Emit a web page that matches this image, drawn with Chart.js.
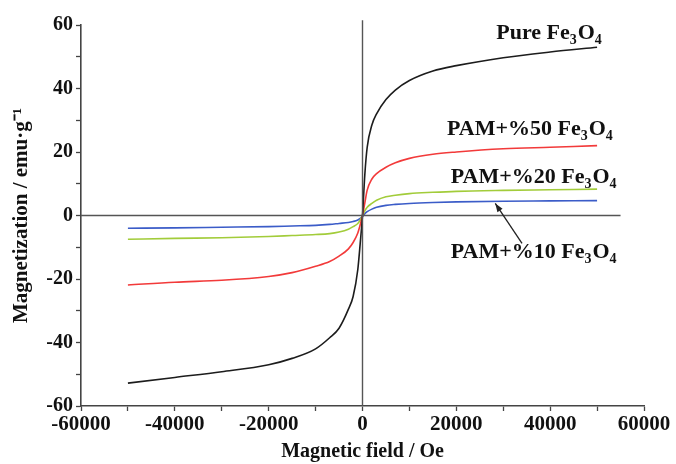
<!DOCTYPE html>
<html>
<head>
<meta charset="utf-8">
<script src="https://cdn.jsdelivr.net/npm/chart.js@4.4.0/dist/chart.umd.min.js"></script>
<style>
  html, body { margin: 0; padding: 0; background: #fff; }
  #wrap { width: 676px; height: 464px; }
</style>
</head>
<body>
<div id="wrap"><canvas id="magPlot"></canvas></div>
<script>
// applied field (Oe)
var field = [-50000, -40000, -30000, -20000, -15000, -10000, -7000, -5000, -3000, -2000, -1000, -500, 0,
             500, 1000, 2000, 3000, 5000, 7000, 10000, 15000, 20000, 30000, 40000, 50000];

// magnetization (emu/g)
var pureFe3O4 = [-52.8, -51, -49.2, -47, -45, -42, -38.5, -35.5, -29.5, -25.5, -17, -9, 0,
                 13, 21.5, 28.5, 32, 36.5, 39.5, 42.5, 45.5, 47.2, 49.7, 51.5, 53];
var pam50 = [-21.9, -21, -20.4, -19.2, -18, -16, -14.5, -12.8, -10.5, -8.5, -5.5, -3, 0,
             4, 8, 11.5, 13.2, 15.2, 16.6, 18, 19.3, 20, 21, 21.5, 22];
var pam20 = [-7.5, -7.2, -7, -6.6, -6.3, -6, -5.7, -5.2, -4.3, -3.5, -2.5, -1.5, 0,
             1.5, 2.6, 3.8, 4.8, 5.9, 6.4, 6.9, 7.3, 7.6, 7.9, 8.1, 8.3];
var pam10 = [-4, -3.9, -3.7, -3.5, -3.3, -3.1, -2.8, -2.5, -2.2, -1.9, -1.4, -0.9, -0.3,
             0.6, 1.2, 2, 2.6, 3.2, 3.5, 3.8, 4.1, 4.3, 4.5, 4.6, 4.7];

var seriesNames = ["Pure Fe3O4", "PAM+%50 Fe3O4", "PAM+%20 Fe3O4", "PAM+%10 Fe3O4"];
var seriesColours = ["#1c1c1c", "#f23a3a", "#a2cc3a", "#3b5cc8"];

// reference lines through the origin
var zeroH = [[-60000, 0], [55000, 0]];
var zeroV = [[0, -60], [0, 61.5]];

var FONT = "'Liberation Serif', 'Times New Roman', serif";
var AXIS = "#444";

function toPoints(xs, ys) {
  var pts = [];
  for (var i = 0; i < xs.length; i++) {
    pts.push({x: xs[i], y: ys[i]});
  }
  return pts;
}

function pairPoints(arr) {
  return arr.map(function(p) { return {x: p[0], y: p[1]}; });
}

function curve(name, ys, colour) {
  return {
    label: name,
    data: toPoints(field, ys),
    borderColor: colour,
    borderWidth: 1.6,
    pointRadius: 0,
    fill: false,
    tension: 0.4,
    cubicInterpolationMode: 'monotone'
  };
}

function refLine(arr) {
  return {
    data: pairPoints(arr),
    borderColor: "#555",
    borderWidth: 1.4,
    pointRadius: 0,
    tension: 0,
    clip: false
  };
}

// label text with subscript digits in Fe3O4
function drawChem(ctx, text, x, y, size) {
  var big = "bold " + size + "px " + FONT;
  var small = "bold " + Math.round(size * 0.62) + "px " + FONT;
  var parts = text.match(/Fe3O4$/) ? [text.replace(/Fe3O4$/, "Fe"), "3", "O", "4"] : [text];
  ctx.textBaseline = "alphabetic";
  ctx.textAlign = "left";
  ctx.fillStyle = "#111";
  for (var i = 0; i < parts.length; i++) {
    var sub = (i === 1 || i === 3);
    ctx.font = sub ? small : big;
    ctx.fillText(parts[i], x, sub ? y + 5 : y);
    x += ctx.measureText(parts[i]).width + (sub ? 1 : 0);
  }
}

var labelPlugin = {
  id: 'curveLabels',
  afterDatasetsDraw: function(chart) {
    var ctx = chart.ctx;
    var xs = chart.scales.x, ys = chart.scales.y;
    ctx.save();
    // label anchors in data units
    var anchors = [[28500, 55.5], [18000, 25.2], [18800, 10.3], [18800, -13.3]];
    for (var i = 0; i < seriesNames.length; i++) {
      drawChem(ctx, seriesNames[i], xs.getPixelForValue(anchors[i][0]), ys.getPixelForValue(anchors[i][1]), 22);
    }
    // arrow to the 10% curve
    var x0 = xs.getPixelForValue(34000), y0 = ys.getPixelForValue(-8.8);
    var x1 = xs.getPixelForValue(28300), y1 = ys.getPixelForValue(3.8);
    ctx.strokeStyle = "#222";
    ctx.fillStyle = "#222";
    ctx.lineWidth = 1.3;
    ctx.beginPath();
    ctx.moveTo(x0, y0);
    ctx.lineTo(x1, y1);
    ctx.stroke();
    var ang = Math.atan2(y1 - y0, x1 - x0);
    ctx.beginPath();
    ctx.moveTo(x1, y1);
    ctx.lineTo(x1 - 9 * Math.cos(ang - 0.35), y1 - 9 * Math.sin(ang - 0.35));
    ctx.lineTo(x1 - 9 * Math.cos(ang + 0.35), y1 - 9 * Math.sin(ang + 0.35));
    ctx.closePath();
    ctx.fill();
    ctx.restore();
  }
};

var datasets = [refLine(zeroH), refLine(zeroV)];
datasets.push(curve(seriesNames[0], pureFe3O4, seriesColours[0]));
datasets.push(curve(seriesNames[1], pam50, seriesColours[1]));
datasets.push(curve(seriesNames[2], pam20, seriesColours[2]));
datasets.push(curve(seriesNames[3], pam10, seriesColours[3]));

var ctx = document.getElementById("magPlot");
var magChart = new Chart(ctx, {
  type: 'line',
  data: {datasets: datasets},
  options: {
    responsive: true,
    maintainAspectRatio: false,
    animation: false,
    layout: {padding: {top: 25, right: 32, left: 9, bottom: 0}},
    plugins: {legend: {display: false}, tooltip: {enabled: false}},
    scales: {
      x: {
        type: 'linear',
        min: -60000, max: 60000,
        afterFit: function(scale) { scale.height = 58; },
        grid: {drawOnChartArea: false, drawTicks: true, tickLength: 5, color: AXIS, tickWidth: 1.3},
        border: {display: true, color: AXIS, width: 1.6},
        ticks: {
          stepSize: 10000, autoSkip: false, maxRotation: 0, padding: 1,
          color: "#111", font: {family: FONT, size: 21, weight: 'bold'},
          callback: function(v) { return v % 20000 === 0 ? v : ''; }
        },
        title: {display: true, text: "Magnetic field / Oe", color: "#111",
                font: {family: FONT, size: 20, weight: 'bold'}, padding: {top: 0, bottom: 0}}
      },
      y: {
        min: -60, max: 60,
        afterFit: function(scale) { scale.width = 72; },
        grid: {drawOnChartArea: false, drawTicks: true, tickLength: 5, color: AXIS, tickWidth: 1.3},
        border: {display: true, color: AXIS, width: 1.6},
        ticks: {
          stepSize: 10, autoSkip: false, padding: 3,
          color: "#111", font: {family: FONT, size: 20, weight: 'bold'},
          callback: function(v) { return v % 20 === 0 ? v : ''; }
        },
        title: {display: true, text: "Magnetization / emu·g⁻¹", color: "#111",
                font: {family: FONT, size: 21, weight: 'bold'}, padding: {top: 0, bottom: 2}}
      }
    }
  },
  plugins: [labelPlugin]
});
</script>
</body>
</html>
